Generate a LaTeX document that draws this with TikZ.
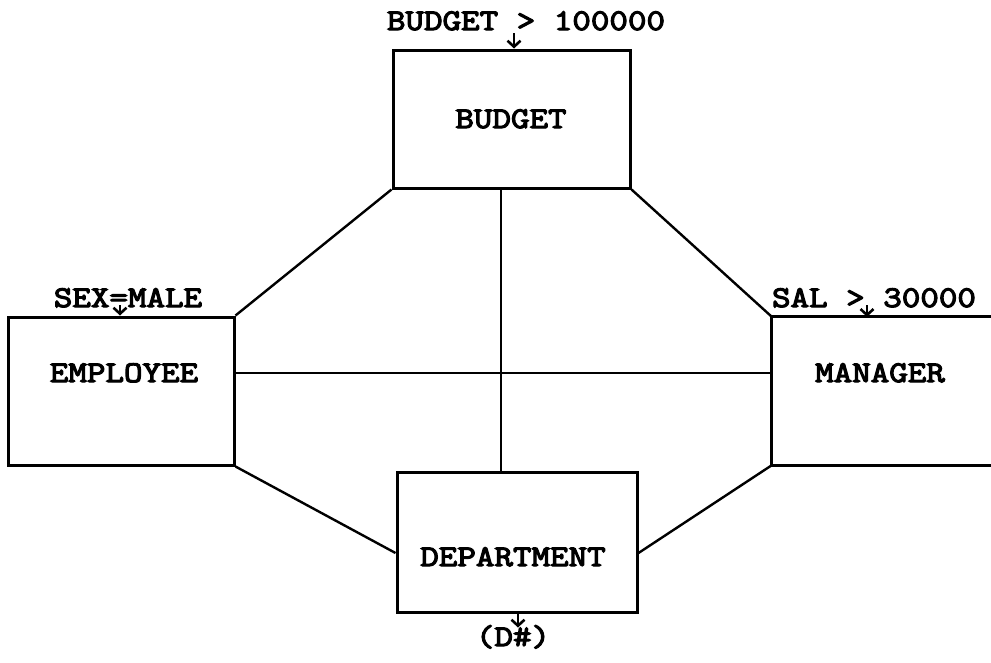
\documentclass[tikz,border=0pt]{standalone}
\usepackage{fontspec}
\newfontfamily\tw{Latin Modern Mono}[FakeStretch=1.2,FakeBold=4]
\usetikzlibrary{arrows.meta}
\tikzset{
  box/.style={draw, line width=3pt, rectangle, inner sep=0pt},
  lbl/.style={font=\tw\fontsize{30}{32}\selectfont, inner sep=0pt, anchor=base},
  conn/.style={line width=2.4pt},
  pt/.style={line width=2.6pt, -{Straight Barb[length=6pt,width=13pt,line width=2.6pt]}}
}
\begin{document}
\begin{tikzpicture}[x=1pt,y=-1pt]
\useasboundingbox[fill=white] (0,0) rectangle (991,662);
% boxes
\node[box, minimum width=237pt, minimum height=138pt] (bud) at (511.5,119) {};
\node[box, minimum width=226pt, minimum height=148pt] (emp) at (121,391) {};
\node[box, minimum width=240pt, minimum height=140pt] (dep) at (517,542) {};
\node[inner sep=0pt, minimum width=219pt, minimum height=148pt] (mgr) at (881.5,391) {};
\draw[line width=3pt] (mgr.north east) -- (mgr.north west) -- (mgr.south west) -- (mgr.south east);
% box texts
\node[lbl] (budt) at (511,128) {BUDGET};
\node[lbl] (empt) at (124,382) {EMPLOYEE};
\node[lbl] (mgrt) at (880,382) {MANAGER};
\node[lbl] (dept) at (513,566) {DEPARTMENT};
% connectors
\draw[conn] (bud.south west) -- (emp.north east);
\draw[conn] (bud.south east) -- (mgr.north west);
\draw[conn] ([xshift=-10.5pt]bud.south) -- ([xshift=-10.5pt]bud.south |- dep.north);
\draw[conn] ([yshift=18pt]emp.east) -- ([yshift=18pt]mgr.west);
\draw[conn] (emp.south east) -- ([yshift=-11pt]dep.west);
\draw[conn] (mgr.south west) -- ([yshift=-11pt]dep.east);
% annotations
\node[lbl] (c1) at (526,30) {BUDGET > 100000};
\node[lbl] (c2) at (128,307) {SEX=MALE};
\node[lbl] (c3) at (874,307) {SAL > 30000};
\node[lbl] (c4) at (513,646) {(D\#)};
\coordinate (a1) at (514,33);
\coordinate (a2) at (120,305);
\coordinate (a3) at (867,305);
\draw[pt] (a1) -- (a1 |- bud.north);
\draw[pt] (a2) -- (a2 |- emp.north);
\draw[pt] (a3) -- (a3 |- mgr.north);
\draw[pt] ([xshift=1pt]dep.south) -- ([xshift=1pt,yshift=-14pt]dep.south);
\end{tikzpicture}
\end{document}
